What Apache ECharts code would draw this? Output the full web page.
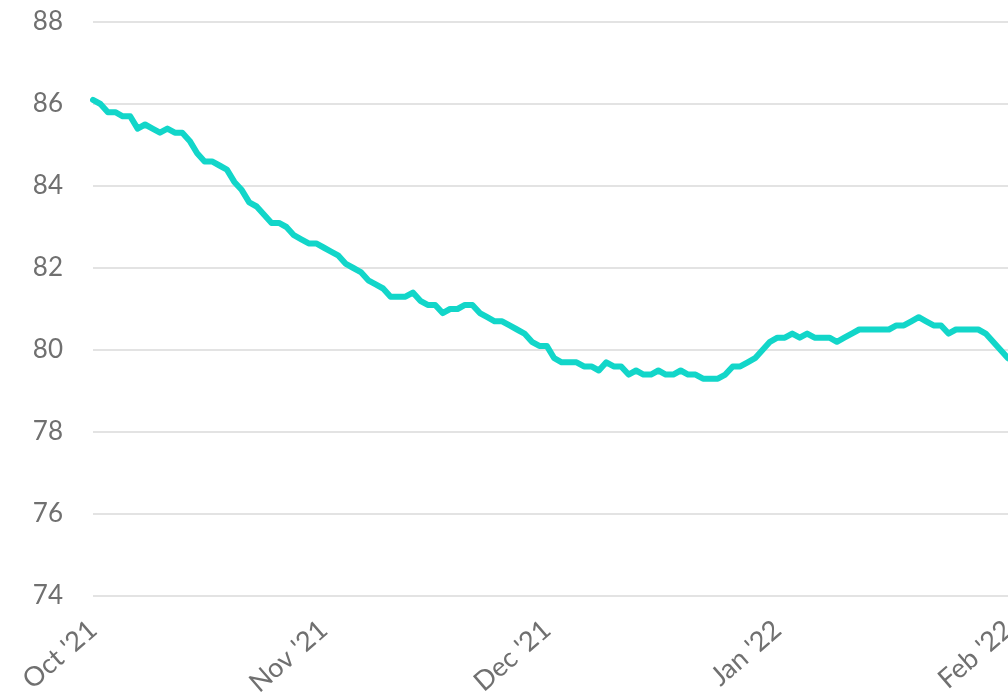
<!DOCTYPE html>
<html>
<head>
<meta charset="utf-8">
<script src="https://cdn.jsdelivr.net/npm/echarts@6/dist/echarts.min.js"></script>
<style>
  html, body { margin: 0; padding: 0; background: #fff; }
  #chart { width: 1008px; height: 698px; }
</style>
</head>
<body>
<div id="chart"></div>
<script>
// first day of the series, one value per day after it
var startDate = '2021-10-01';
var monthNames = ['Jan', 'Feb', 'Mar', 'Apr', 'May', 'Jun', 'Jul', 'Aug', 'Sep', 'Oct', 'Nov', 'Dec'];

var values = [
  86.1, 86.0, 85.8, 85.8, 85.7, 85.7, 85.4, 85.5, 85.4, 85.3,
  85.4, 85.3, 85.3, 85.1, 84.8, 84.6, 84.6, 84.5, 84.4, 84.1,
  83.9, 83.6, 83.5, 83.3, 83.1, 83.1, 83.0, 82.8, 82.7, 82.6,
  82.6, 82.5, 82.4, 82.3, 82.1, 82.0, 81.9, 81.7, 81.6, 81.5,
  81.3, 81.3, 81.3, 81.4, 81.2, 81.1, 81.1, 80.9, 81.0, 81.0,
  81.1, 81.1, 80.9, 80.8, 80.7, 80.7, 80.6, 80.5, 80.4, 80.2,
  80.1, 80.1, 79.8, 79.7, 79.7, 79.7, 79.6, 79.6, 79.5, 79.7,
  79.6, 79.6, 79.4, 79.5, 79.4, 79.4, 79.5, 79.4, 79.4, 79.5,
  79.4, 79.4, 79.3, 79.3, 79.3, 79.4, 79.6, 79.6, 79.7, 79.8,
  80.0, 80.2, 80.3, 80.3, 80.4, 80.3, 80.4, 80.3, 80.3, 80.3,
  80.2, 80.3, 80.4, 80.5, 80.5, 80.5, 80.5, 80.5, 80.6, 80.6,
  80.7, 80.8, 80.7, 80.6, 80.6, 80.4, 80.5, 80.5, 80.5, 80.5,
  80.4, 80.2, 80.0, 79.8
];

var yMin = 74;
var yMax = 88;
var yStep = 2;

// one category per day
function buildDays() {
  var days = [];
  var d = new Date(startDate + 'T00:00:00Z');
  for (var i = 0; i < values.length; i++) {
    days.push(d.toISOString().slice(0, 10));
    d.setUTCDate(d.getUTCDate() + 1);
  }
  return days;
}

function monthLabel(day) {
  var parts = day.split('-');
  return monthNames[parseInt(parts[1], 10) - 1] + " '" + parts[0].slice(2);
}

var days = buildDays();
var chart = echarts.init(document.getElementById('chart'));

chart.setOption({
  animation: false,
  grid: {
    left: 93,
    right: 0,
    top: 22,
    bottom: 102,
    containLabel: false,
    outerBoundsMode: 'none'
  },
  xAxis: {
    type: 'category',
    data: days,
    boundaryGap: false,
    axisLine: { show: false },
    axisTick: { show: false },
    splitLine: { show: false },
    axisLabel: {
      interval: function (index, value) { return value.slice(8) === '01'; },
      formatter: function (value) { return monthLabel(value); },
      rotate: 41,
      margin: 30,
      color: '#707070',
      fontSize: 27,
      fontFamily: 'Lato, sans-serif'
    }
  },
  yAxis: {
    type: 'value',
    min: yMin,
    max: yMax,
    interval: yStep,
    axisLine: { show: false },
    axisTick: { show: false },
    splitLine: { lineStyle: { color: '#e3e3e3', width: 2 } },
    axisLabel: {
      margin: 30,
      color: '#707070',
      fontSize: 26,
      fontFamily: 'Lato, sans-serif'
    }
  },
  series: [{
    type: 'line',
    data: values,
    showSymbol: false,
    symbol: 'none',
    lineStyle: { color: '#12d6c9', width: 6, join: 'round', cap: 'round' }
  }]
});
</script>
</body>
</html>
